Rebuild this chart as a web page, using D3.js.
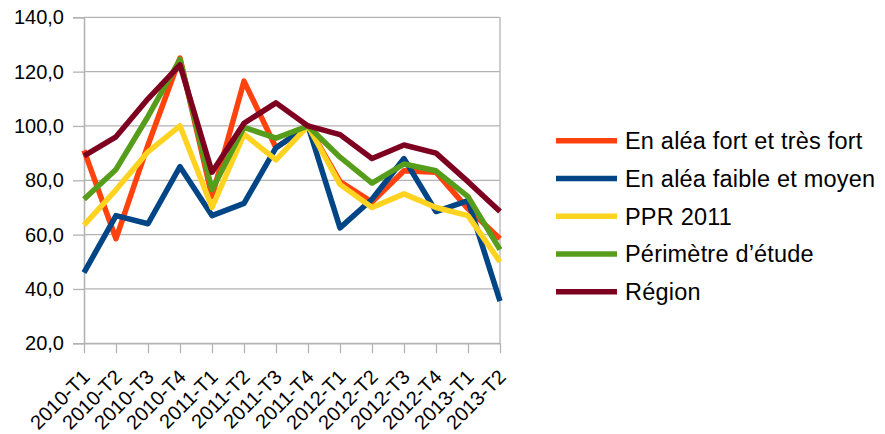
<!DOCTYPE html>
<html>
<head>
<meta charset="utf-8">
<script src="https://cdn.jsdelivr.net/npm/d3@7"></script>
<style>
html,body{margin:0;padding:0;background:#fff;}
svg{display:block;font-family:"Liberation Sans",Arial,sans-serif;}
</style>
</head>
<body>
<svg id="chart" width="885" height="434"></svg>
<script>
const categories = ["2010-T1","2010-T2","2010-T3","2010-T4","2011-T1","2011-T2","2011-T3","2011-T4","2012-T1","2012-T2","2012-T3","2012-T4","2013-T1","2013-T2"];
const seriesNames = ["En aléa fort et très fort","En aléa faible et moyen","PPR 2011","Périmètre d’étude","Région"];
const seriesColors = ["#ff420e","#004586","#ffd320","#579d1c","#7e0021"];
const fortValues     = [91, 58.5, 93, 125, 74, 116.5, 92, 100, 79.5, 72, 83.5, 83, 69.5, 58.5];
const faibleValues   = [46, 67, 64, 85, 67, 71.5, 92, 100, 62.5, 73, 88, 68.5, 72.5, 35.5];
const pprValues      = [63.5, 76.5, 90.5, 100, 70, 97, 87.5, 100, 78.5, 70, 75, 70, 67, 50];
const perimetreValues= [73, 84, 103.5, 124.5, 76.5, 99.5, 95.5, 100, 88.5, 79, 86, 83.5, 74, 54.5];
const regionValues   = [89, 96, 110, 122.5, 83, 101, 108.5, 100, 96.8, 88, 93, 90, 79.5, 68.5];
const yTicks = [20, 40, 60, 80, 100, 120, 140];

const seriesValues = [fortValues, faibleValues, pprValues, perimetreValues, regionValues];

const svg = d3.select("#chart");
const mLeft = 84, mRight = 500, mTop = 17.3, mBottom = 343.3;
const grid = "#b3b3b3";

const x = d3.scalePoint().domain(categories).range([mLeft, mRight]);
const y = d3.scaleLinear().domain([20, 140]).range([mBottom, mTop]);

// gridlines
svg.append("g").selectAll("line").data(yTicks).join("line")
  .attr("x1", mLeft).attr("x2", mRight)
  .attr("y1", d => y(d)).attr("y2", d => y(d))
  .attr("stroke", grid).attr("stroke-width", 1.3);

// right border
svg.append("line").attr("x1", mRight).attr("x2", mRight).attr("y1", mTop).attr("y2", mBottom)
  .attr("stroke", grid).attr("stroke-width", 1.3);

// y axis
const fmt = d => d.toFixed(1).replace(".", ",");
const yAxis = svg.append("g").attr("transform", `translate(${mLeft},0)`)
  .call(d3.axisLeft(y).tickValues(yTicks).tickSize(11).tickPadding(9).tickFormat(fmt));
yAxis.select(".domain").attr("stroke", grid).attr("stroke-width", 1.6);
yAxis.selectAll(".tick line").attr("stroke", grid).attr("stroke-width", 1.3);
yAxis.selectAll("text").attr("font-size", 20).attr("fill", "#000")
  .attr("font-family", "'Liberation Sans', Arial, sans-serif");

// x axis
const xAxis = svg.append("g").attr("transform", `translate(0,${mBottom})`)
  .call(d3.axisBottom(x).tickSize(10).tickSizeOuter(0).tickFormat(d => d));
xAxis.select(".domain").attr("stroke", grid).attr("stroke-width", 1.6);
xAxis.selectAll(".tick line").attr("stroke", grid).attr("stroke-width", 1.3);
xAxis.selectAll("text")
  .attr("font-size", 20).attr("fill", "#000")
  .attr("font-family", "'Liberation Sans', Arial, sans-serif")
  .attr("text-anchor", "end")
  .attr("dy", null).attr("y", null)
  .attr("transform", "translate(3,31) rotate(-45)")
  .attr("dominant-baseline", "middle");

// lines
const line = d3.line().x((d, i) => x(categories[i])).y(d => y(d));
svg.append("g").selectAll("path").data(seriesValues).join("path")
  .attr("d", d => line(d))
  .attr("fill", "none")
  .attr("stroke", (d, i) => seriesColors[i])
  .attr("stroke-width", 5.5)
  .attr("stroke-linejoin", "round")
  .attr("stroke-linecap", "butt");

// legend
const legend = svg.append("g");
const ly = d3.scalePoint().domain(seriesNames).range([140.7, 291.7]);
const items = legend.selectAll("g").data(seriesNames).join("g")
  .attr("transform", d => `translate(0,${ly(d)})`);
items.append("line").attr("x1", 556).attr("x2", 617).attr("y1", 0).attr("y2", 0)
  .attr("stroke", (d, i) => seriesColors[i]).attr("stroke-width", 5.5);
items.append("text").attr("x", 625).attr("y", 0).attr("dy", "0.36em")
  .attr("font-size", 23.5).attr("letter-spacing", 0.2).attr("fill", "#000").text(d => d);
</script>
</body>
</html>
